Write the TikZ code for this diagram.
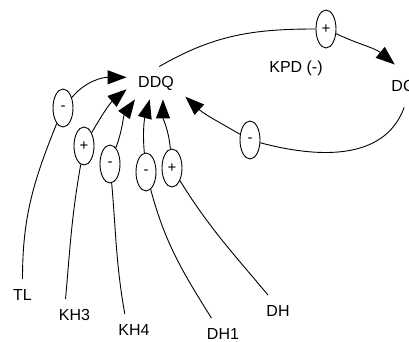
\documentclass[tikz,border=0pt]{standalone}
\usepackage{fontspec}
\setmainfont{Liberation Sans}
\usetikzlibrary{shapes.geometric,arrows.meta}

\begin{document}
\begin{tikzpicture}[
  x=1pt, y=1pt,
  line width=0.9pt,
  every node/.style={font=\fontsize{16}{19}\selectfont},
  sign/.style={
    ellipse, draw,
    minimum width=20pt, minimum height=38pt, inner sep=0pt,
    font=\fontsize{15}{17}\selectfont,
  },
  var/.style={inner sep=10pt},
  link/.style={-{Triangle[length=19pt,width=14pt]}},
  ]
  \useasboundingbox (0,0) rectangle (409,342);
  \node [minimum width=58pt, minimum height=32pt] (DDQ) at (156,259) {DDQ};
  \node [minimum width=30pt, minimum height=42pt] (DC) at (403,256) {DC};
  \node (KPD) at (296,274) {KPD (-)};
  \node [var] (TL) at (22.5,47) {TL};
  \node [var] (KH3) at (74.5,27) {KH3};
  \node [var] (KH4) at (134,12) {KH4};
  \node [var] (DH1) at (223,8) {DH1};
  \node [var] (DH) at (278,31) {DH};
  \node [sign] (KPDp) at (326,313) {+};
  \node [sign] (KPDm) at (250,202) {-};
  \node [sign] (TLm) at (63,234) {-};
  \node [sign] (KH3p) at (84,196) {+};
  \node [sign] (KH4m) at (110,178) {-};
  \node [sign] (DH1m) at (146,170) {-};
  \node [sign] (DHp) at (172,174) {+};
  \draw (DDQ.79) to[out=30,in=180] (KPDp);
  \draw [link] (KPDp) to[out=-25,in=140] (DC.111);
  \draw (DC.273) to[out=-110,in=-15] (KPDm);
  \draw [link] (KPDm) to[out=150,in=-43] (DDQ.335);
  \draw (TL.north) to[out=90,in=-112] (TLm);
  \draw [link] (TLm) to[out=50,in=180] (DDQ.169);
  \draw (KH3.119) to[out=85,in=-100] (KH3p);
  \draw [link] (KH3p) to[out=60,in=-140] (DDQ.192);
  \draw (KH4.120) to[out=100,in=-85] (KH4m);
  \draw [link] (KH4m) to[out=70,in=-125] (DDQ.218);
  \draw (DH1.126) to[out=122,in=-75] (DH1m);
  \draw [link] (DH1m) to[out=95,in=-105] (DDQ.249);
  \draw (DH.122) to[out=130,in=-58] (DHp);
  \draw [link] (DHp) to[out=95,in=-90] (DDQ.293);
\end{tikzpicture}
\end{document}
